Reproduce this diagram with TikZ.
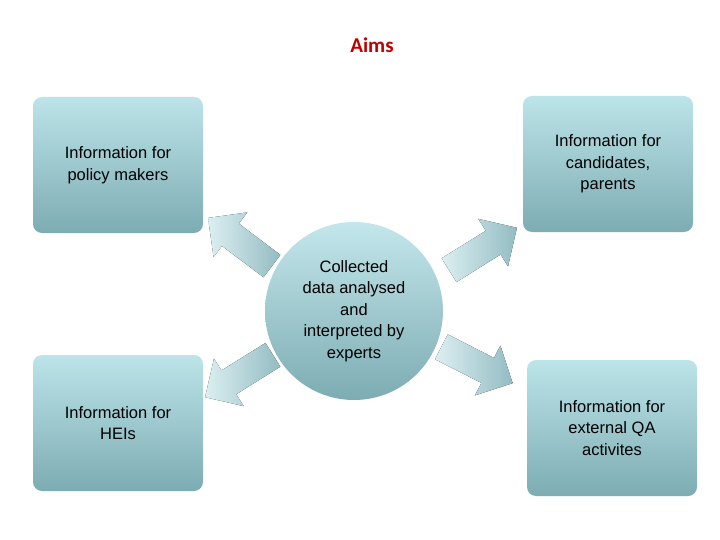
\documentclass[tikz,border=0pt]{standalone}
\usepackage{fontspec}
\setmainfont{Liberation Sans}
\newfontfamily\titlefont{Carlito}
\definecolor{tlight}{HTML}{BCE4E9}
\definecolor{tdark}{HTML}{7DACB3}
\definecolor{alight}{HTML}{DCEFF2}
\definecolor{adark}{HTML}{93BCC2}
\definecolor{titlered}{HTML}{C00000}
\begin{document}
\begin{tikzpicture}[x=1pt,y=-1pt,
  box/.style={rounded corners=9pt, top color=tlight, bottom color=tdark, draw=none,
    minimum width=170pt, minimum height=136pt, align=center, font=\fontsize{16.5}{21.5}\selectfont, inner sep=0pt},
  hub/.style={circle, minimum size=178pt, inner sep=0pt, top color=tlight!90!white, bottom color=tdark, align=center, font=\fontsize{16.5}{21.5}\selectfont},
  blk/.style={left color=alight, right color=adark, draw=none}]
\useasboundingbox (0,0) rectangle (720,540);
\fill[white] (0,0) rectangle (720,540);
\node[font=\titlefont\bfseries\fontsize{21}{24}\selectfont, text=titlered] (title) at (372,45) {Aims};
\node[box] (tl) at (118,165) {Information for\\policy makers};
\node[box] (tr) at (608,164) {Information for\\candidates,\\parents};
\node[box] (bl) at (118,423) {Information for\\HEIs};
\node[box] (br) at (612,428) {Information for\\external QA\\activites};
\node[hub] (c) at (354,311) {Collected\\data analysed\\and\\interpreted by\\experts};
\foreach \n/\cx/\cy/\r in {a1/240/242/143, a2/483/249/32, a3/239/376/-148, a4/477/365/-27}{
  \coordinate (\n) at (\cx,\cy);
  \fill[blk, shift={(\n)}, rotate=\r] (-40,-14) -- (12,-14) -- (12,-28) -- (40,0) -- (12,28) -- (12,14) -- (-40,14) -- cycle;
}
\end{tikzpicture}
\end{document}
